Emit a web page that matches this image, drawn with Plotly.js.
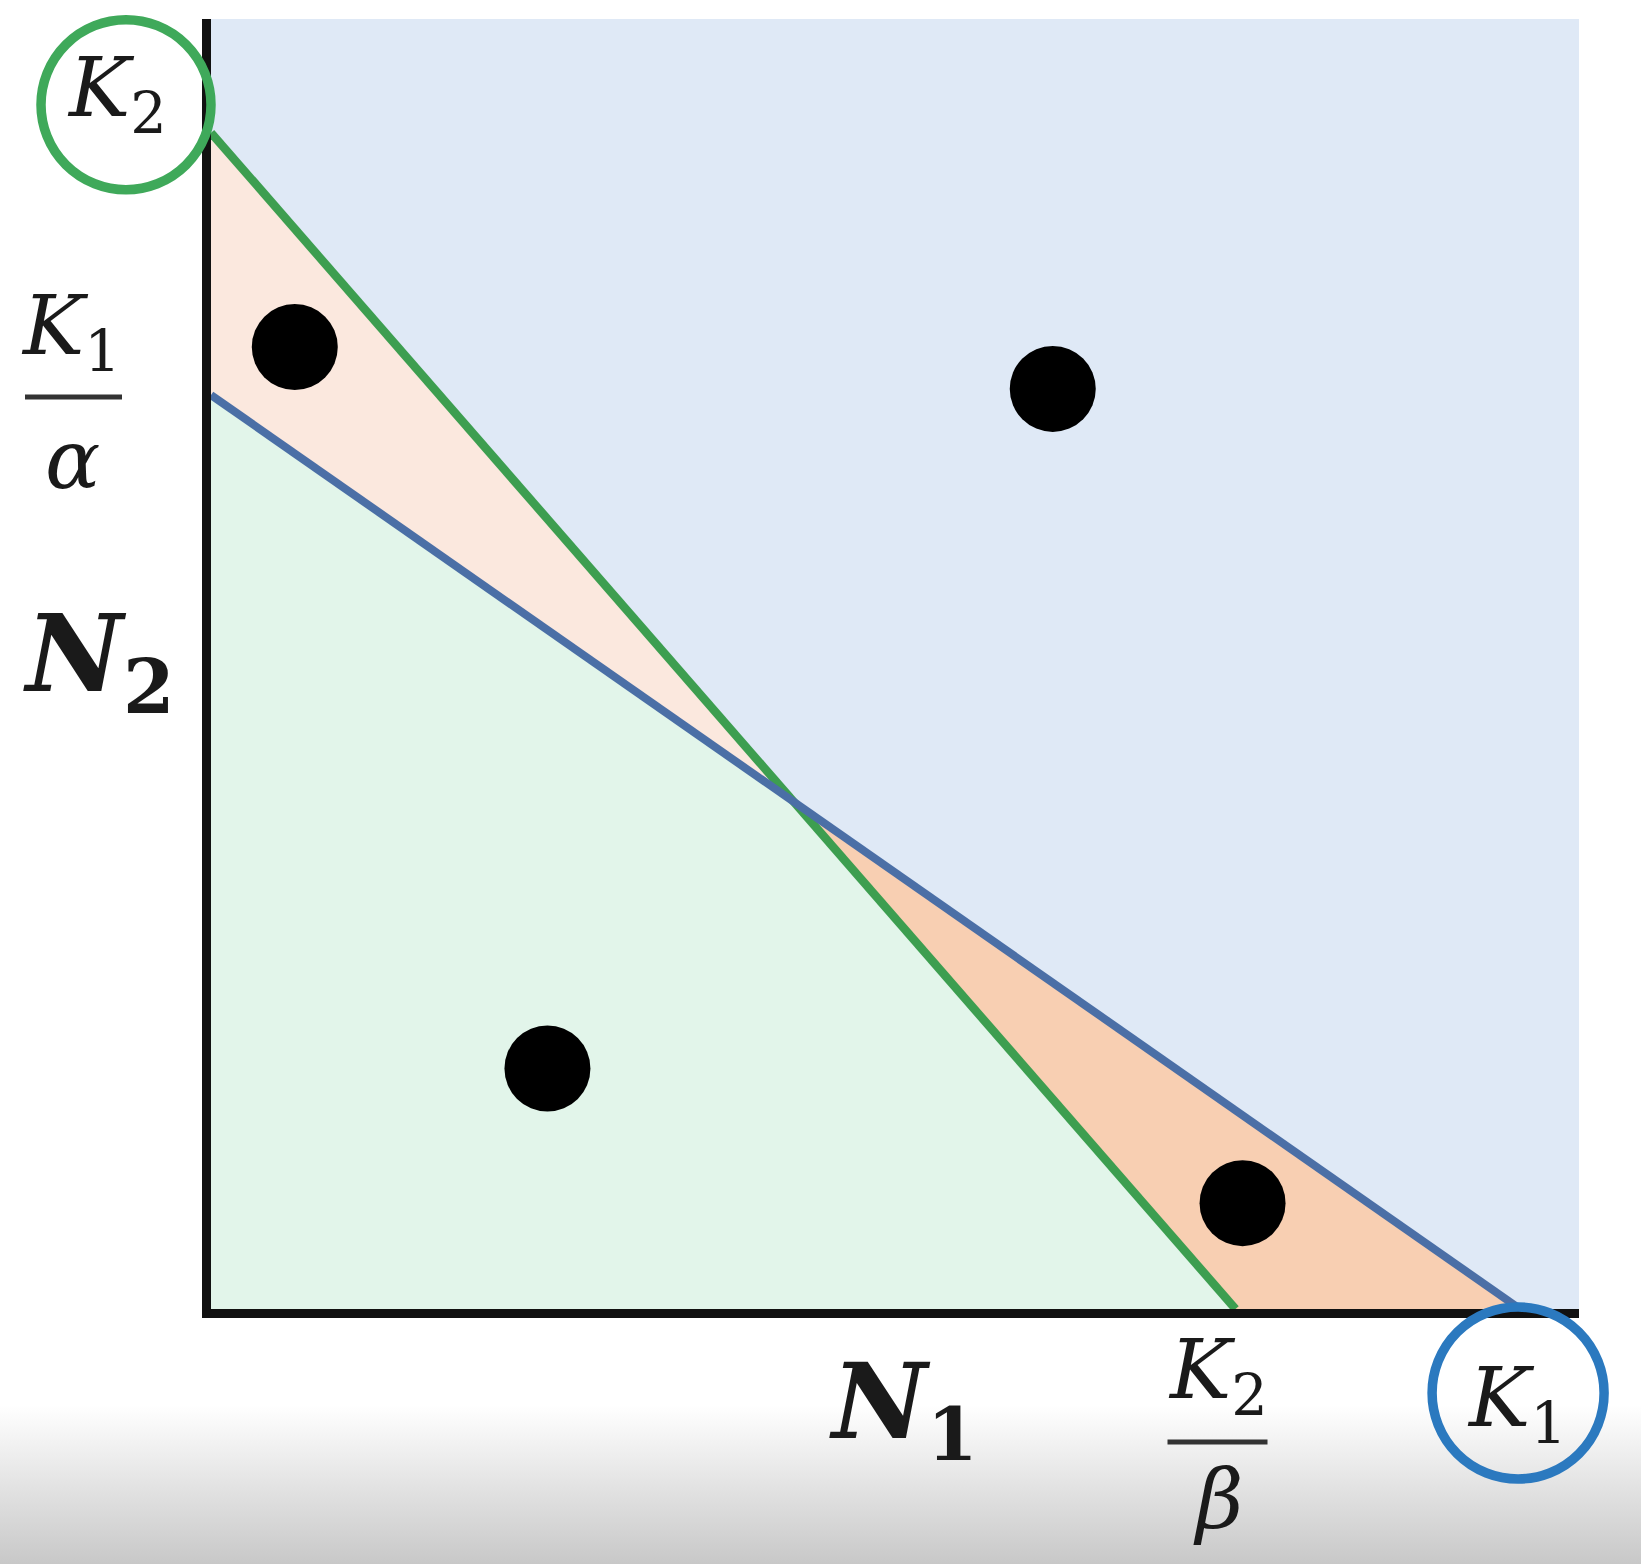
<!DOCTYPE html>
<html>
<head>
<meta charset="utf-8">
<script src="https://cdn.plot.ly/plotly-3.0.1.min.js"></script>
<style>
  html, body { margin: 0; padding: 0; }
  body {
    width: 1641px; height: 1564px; overflow: hidden;
    background: linear-gradient(to bottom, #ffffff 0px, #ffffff 1405px, #c8c8c8 1564px);
  }
  #chart { width: 1641px; height: 1564px; }
</style>
</head>
<body>
<div id="chart"></div>
<script>
// Lotka–Volterra competition: carrying capacities and competition coefficients
const K1 = 100;
const K2 = 90;
const alpha = 1.43;
const beta = 1.15;

// Axis extents (population sizes)
const N1_MAX = 104.5;
const N2_MAX = 98.7;

// Example states, one in each region of the phase plane
const stateN1 = [6.4, 64.3, 25.7, 78.8];
const stateN2 = [73.6, 70.4, 18.4, 8.1];

// Axis and intercept labels
const labelN1 = '<b><i>N</i><sub>1</sub></b>';
const labelN2 = '<b><i>N</i><sub>2</sub></b>';
const labelK1 = '<i>K</i><sub>1</sub>';
const labelK2 = '<i>K</i><sub>2</sub>';
const labelAlpha = '<i>α</i>';
const labelBeta = '<i>β</i>';

// Colours
const regionBlue = '#dfe9f6';
const regionGreen = '#e2f5ea';
const regionPeachLight = '#fbe8de';
const regionPeach = '#f8cfb2';
const isoGreen = '#3d9e50';
const isoBlue = '#4b6fa6';
const ringGreen = '#3fa95a';
const ringBlue = '#2b79bf';
const ink = '#1a1a1a';

// Isocline intercepts and their crossing point
const k1OverAlpha = K1 / alpha;   // N2 intercept of the species-1 isocline
const k2OverBeta = K2 / beta;     // N1 intercept of the species-2 isocline
const crossN1 = (K1 - alpha * K2) / (1 - alpha * beta);
const crossN2 = (K2 - beta * K1) / (1 - alpha * beta);

const base = { type: 'scatter', hoverinfo: 'skip', showlegend: false };

const traces = [
  Object.assign({}, base, {   // below both isoclines
    x: [0, 0, crossN1, k2OverBeta], y: [0, k1OverAlpha, crossN2, 0],
    mode: 'none', fill: 'toself', fillcolor: regionGreen
  }),
  Object.assign({}, base, {   // between isoclines, upper left
    x: [0, 0, crossN1], y: [k1OverAlpha, K2, crossN2],
    mode: 'none', fill: 'toself', fillcolor: regionPeachLight
  }),
  Object.assign({}, base, {   // between isoclines, lower right
    x: [k2OverBeta, crossN1, K1], y: [0, crossN2, 0],
    mode: 'none', fill: 'toself', fillcolor: regionPeach
  }),
  Object.assign({}, base, {   // species-2 isocline
    x: [0, k2OverBeta], y: [K2, 0],
    mode: 'lines', line: { color: isoGreen, width: 8.5 }, cliponaxis: false
  }),
  Object.assign({}, base, {   // species-1 isocline
    x: [0, K1], y: [k1OverAlpha, 0],
    mode: 'lines', line: { color: isoBlue, width: 8 }, cliponaxis: false
  }),
  Object.assign({}, base, {
    x: stateN1, y: stateN2,
    mode: 'markers', marker: { color: '#000000', size: 86, line: { width: 0 } }
  })
];

// paper fractions of axis values
const px = v => v / N1_MAX;
const py = v => v / N2_MAX;

function ring(xa, ya, x0, x1, y0, y1, color) {
  return {
    type: 'circle', xref: 'paper', yref: 'paper',
    xsizemode: 'pixel', ysizemode: 'pixel', xanchor: xa, yanchor: ya,
    x0: x0, x1: x1, y0: y0, y1: y1,
    line: { color: color, width: 9.5 }, fillcolor: 'rgba(0,0,0,0)', layer: 'above'
  };
}
function bar(xa, ya, x0, x1, y) {
  return {
    type: 'line', xref: 'paper', yref: 'paper',
    xsizemode: 'pixel', ysizemode: 'pixel', xanchor: xa, yanchor: ya,
    x0: x0, x1: x1, y0: y, y1: y,
    line: { color: '#333333', width: 5 }, layer: 'above'
  };
}

const shapes = [
  ring(px(0), py(K2), -170, 0, -57, 113, ringGreen),
  ring(px(K1), py(0), -88, 84, -170, 2, ringBlue),
  bar(px(0), py(k1OverAlpha), -186, -89, -2),
  bar(px(k2OverBeta), py(0), -68, 32, -133)
];

const serif = 'DejaVu Serif, Liberation Serif, serif';
function label(text, x, y, xshift, yshift, size) {
  return {
    text: text, xref: 'paper', yref: 'paper', x: x, y: y,
    xshift: xshift, yshift: yshift, showarrow: false,
    xanchor: 'center', yanchor: 'middle',
    font: { family: serif, size: size, color: ink }
  };
}

const annotations = [
  label(labelK2, px(0), py(K2), -94, 39, 82),
  label(labelK1, px(0), py(k1OverAlpha), -140, 64, 82),
  label(labelAlpha, px(0), py(k1OverAlpha), -139, -64, 82),
  label(labelN2, 0, 0.5, -112, 4, 106),
  label(labelN1, 0.5, 0, 8, -99, 104),
  label(labelK2, px(k2OverBeta), py(0), -18, -66, 82),
  label(labelBeta, px(k2OverBeta), py(0), -18, -190, 82),
  label(labelK1, px(K1), py(0), -3, -94, 82)
];

const axisStyle = {
  showline: true, linecolor: '#111111', linewidth: 9,
  showgrid: false, zeroline: false, showticklabels: false, ticks: '',
  fixedrange: true
};

const layout = {
  width: 1641, height: 1564,
  margin: { l: 211, r: 62, t: 19, b: 255, pad: 0 },
  paper_bgcolor: 'rgba(0,0,0,0)',
  plot_bgcolor: regionBlue,
  showlegend: false,
  xaxis: Object.assign({ range: [0, N1_MAX] }, axisStyle),
  yaxis: Object.assign({ range: [0, N2_MAX] }, axisStyle),
  shapes: shapes,
  annotations: annotations
};

Plotly.newPlot('chart', traces, layout, { displayModeBar: false, staticPlot: true });
</script>
</body>
</html>
